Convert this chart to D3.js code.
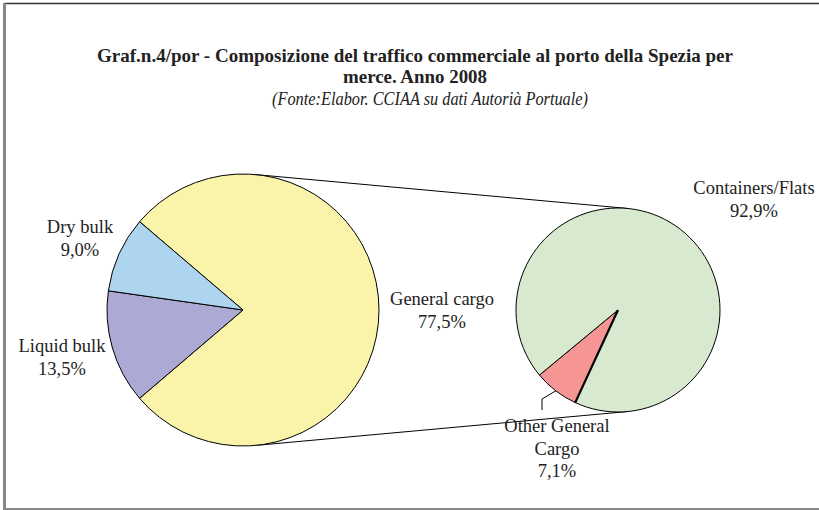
<!DOCTYPE html>
<html lang="it">
<head>
<meta charset="UTF-8">
<title>Composizione del traffico commerciale - porto della Spezia 2008</title>
<script src="https://d3js.org/d3.v7.min.js"></script>
<style>
    body { margin: 0; background: #fff; }
    svg { display: block; font-family: "Liberation Serif", "Times New Roman", serif; }
    .lbl { font-size: 18.5px; fill: #222; text-anchor: middle; }
</style>
</head>
<body>
<div id="chart"></div>
<script>
// data (percent)
const mainCats = ["General cargo", "Liquid bulk", "Dry bulk"];
const mainVals = [77.5, 13.5, 9.0];
const mainColors = ["#f9f4aa", "#aca9d5", "#aed5f0"];

const subCats = ["Other General Cargo", "Containers/Flats"];
const subVals = [7.1, 92.9];
const subColors = ["#f59594", "#d7e9cf"];

const titleLines = [
    "Graf.n.4/por - Composizione del traffico commerciale al porto della Spezia per",
    "merce. Anno 2008"
];
const titleWidths = [636, 144];
const subtitle = "(Fonte:Elabor. CCIAA su dati Autorià Portuale)";

const W = 819, H = 510;
const svg = d3.select("#chart").append("svg")
    .attr("width", W).attr("height", H);

// frame
svg.append("line").attr("x1", 4).attr("x2", W).attr("y1", 3.5).attr("y2", 3.5)
    .attr("stroke", "#333").attr("stroke-width", 1.5);
svg.append("line").attr("x1", 4.5).attr("x2", 4.5).attr("y1", 3).attr("y2", H)
    .attr("stroke", "#888").attr("stroke-width", 3);
svg.append("line").attr("x1", 4).attr("x2", W).attr("y1", 509).attr("y2", 509)
    .attr("stroke", "#888").attr("stroke-width", 2);

// titles (condensed like the original)
svg.selectAll(".title").data(titleLines).enter().append("text")
    .attr("class", "title")
    .attr("x", 415).attr("y", (d, i) => 62 + i * 21)
    .attr("text-anchor", "middle")
    .attr("textLength", (d, i) => titleWidths[i])
    .attr("lengthAdjust", "spacingAndGlyphs")
    .style("font-size", "19.5px").style("font-weight", "bold").style("fill", "#222")
    .text(d => d);
svg.append("text")
    .attr("x", 430).attr("y", 105)
    .attr("text-anchor", "middle")
    .attr("textLength", 316)
    .attr("lengthAdjust", "spacingAndGlyphs")
    .style("font-size", "18px").style("font-style", "italic").style("fill", "#222")
    .text(subtitle);

// geometry
const c1 = { x: 243, y: 310, r: 136 };
const c2 = { x: 618, y: 310, r: 102 };

// connector lines (outer tangents between the two pies)
const d = c2.x - c1.x;
const s = (c1.r - c2.r) / d, cth = Math.sqrt(1 - s * s);
[-1, 1].forEach(sign => {
    svg.append("line")
        .attr("x1", c1.x + c1.r * s).attr("y1", c1.y + sign * c1.r * cth)
        .attr("x2", c2.x + c2.r * s).attr("y2", c2.y + sign * c2.r * cth)
        .attr("stroke", "#000").attr("stroke-width", 1);
});

// main pie: general cargo centred on the right
const genShare = mainVals[0] / d3.sum(mainVals);
const pie1 = d3.pie().sort(null)
    .startAngle(Math.PI / 2 - genShare * Math.PI)
    .endAngle(Math.PI / 2 - genShare * Math.PI + 2 * Math.PI);
const arc1 = d3.arc().innerRadius(0).outerRadius(c1.r);
const g1 = svg.append("g").attr("transform", `translate(${c1.x},${c1.y})`);
g1.selectAll("path").data(pie1(mainVals)).enter().append("path")
    .attr("d", arc1)
    .attr("fill", (d, i) => mainColors[i])
    .attr("stroke", "#000").attr("stroke-width", 1);

// secondary pie
const subStart = 204.8 * Math.PI / 180;
const pie2 = d3.pie().sort(null).startAngle(subStart).endAngle(subStart + 2 * Math.PI);
const arc2 = d3.arc().innerRadius(0).outerRadius(c2.r);
const g2 = svg.append("g").attr("transform", `translate(${c2.x},${c2.y})`);
const subArcs = pie2(subVals);
g2.selectAll("path").data(subArcs).enter().append("path")
    .attr("d", arc2)
    .attr("fill", (d, i) => subColors[i])
    .attr("stroke", "#000").attr("stroke-width", 1);
// heavier edge between the two slices
g2.append("line")
    .attr("x1", 0).attr("y1", 0)
    .attr("x2", c2.r * Math.sin(subStart)).attr("y2", -c2.r * Math.cos(subStart))
    .attr("stroke", "#000").attr("stroke-width", 2.2);

// labels
const fmt = v => d3.format(".1f")(v).replace(".", ",") + "%";
const labels = [
    { lines: ["Dry bulk", fmt(mainVals[2])], x: 80, y: 233 },
    { lines: ["Liquid bulk", fmt(mainVals[1])], x: 62, y: 352 },
    { lines: ["General cargo", fmt(mainVals[0])], x: 442, y: 305 },
    { lines: ["Containers/Flats", fmt(subVals[1])], x: 754, y: 194 },
    { lines: ["Other General", "Cargo", fmt(subVals[0])], x: 557, y: 432 }
];
labels.forEach(l => {
    const t = svg.append("text").attr("class", "lbl").attr("x", l.x).attr("y", l.y);
    l.lines.forEach((s, i) => {
        t.append("tspan").attr("x", l.x).attr("dy", i === 0 ? 0 : 22.5).text(s);
    });
});

// leader line for the small slice
const o = subArcs[0];
const mid = (o.startAngle + o.endAngle) / 2;
const lx = c2.x + c2.r * Math.sin(mid), ly = c2.y - c2.r * Math.cos(mid);
svg.append("polyline")
    .attr("points", `${lx},${ly} 542,399 542,410`)
    .attr("fill", "none").attr("stroke", "#000").attr("stroke-width", 1);
</script>
</body>
</html>
